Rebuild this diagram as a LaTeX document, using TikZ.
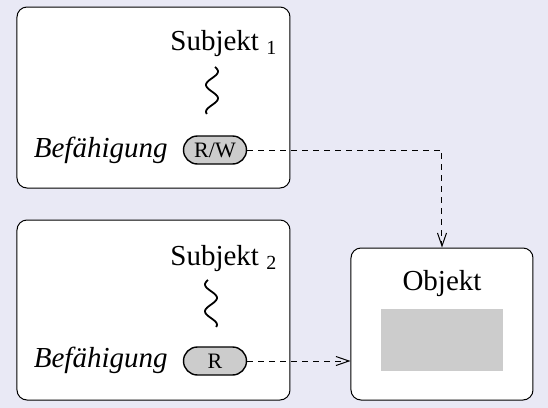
\documentclass[tikz,border=0pt]{standalone}
\usepackage{fontspec}
\setmainfont{Liberation Serif}
\usetikzlibrary{arrows.meta,shapes.misc}

\definecolor{pagebg}{RGB}{233,233,245}
\definecolor{capgray}{RGB}{204,204,204}

\tikzset{
  box/.style={draw, fill=white, rounded corners=5pt, line width=0.5pt},
  pill/.style={draw, fill=capgray, rounded rectangle, minimum width=31.5pt, minimum height=14pt, inner sep=0pt, line width=0.7pt, font=\fontsize{11}{13}\selectfont},
  access/.style={dash pattern=on 3pt off 2.5pt, line width=0.5pt, -{Straight Barb[length=6.5pt,width=4.5pt]}},
  wave/.style={line width=0.9pt},
  lbl/.style={inner sep=0pt, font=\fontsize{14.5}{17}\selectfont},
  ilbl/.style={inner sep=0pt, font=\fontsize{14.5}{17}\selectfont\itshape}
}

\begin{document}
\begin{tikzpicture}[x=0.5pt,y=0.5pt,yscale=-1,xscale=1]
\path [use as bounding box, fill=pagebg] (0,0) rectangle (548,408);

% Subject boxes
\draw [box] (17,7) rectangle (290,188);
\draw [box] (17,220) rectangle (290,400);
% Object box
\node [box, minimum width=91pt, minimum height=76pt, inner sep=0pt] (obj) at (442,324) {};
\fill [capgray] (381,309) rectangle (503,371);

% Text Node
\draw (442,290) node [lbl, anchor=base] (objtxt) {Objekt};
% Text Node
\draw (170,50) node [lbl, anchor=base west] (subj1) {Subjekt \raisebox{-0.35ex}{\fontsize{10}{12}\selectfont 1}};
% Text Node
\draw (170,265) node [lbl, anchor=base west] (subj2) {Subjekt \raisebox{-0.35ex}{\fontsize{10}{12}\selectfont 2}};
% Text Node
\draw (168,157) node [ilbl, anchor=base east] (cap1txt) {Befähigung};
% Text Node
\draw (168,367) node [ilbl, anchor=base east] (cap2txt) {Befähigung};

% Capabilities
\node [pill] (cap1) at (215,150) {R/W};
\node [pill] (cap2) at (215,361) {R};

% Squiggles
\coordinate (w1) at (212,67);
\coordinate (w2) at (211,280);
\draw [wave, shift={(w1)}] plot [smooth, samples=40, domain=0:1] ({6*sin(630*\x+30)},{47*\x});
\draw [wave, shift={(w2)}] plot [smooth, samples=40, domain=0:1] ({6*sin(630*\x+210)},{47*\x});

% Connection
\draw [access] (cap1.east) -| (obj.north);
% Connection
\draw [access] (cap2.east) -- (cap2.east -| obj.west);

\end{tikzpicture}
\end{document}
